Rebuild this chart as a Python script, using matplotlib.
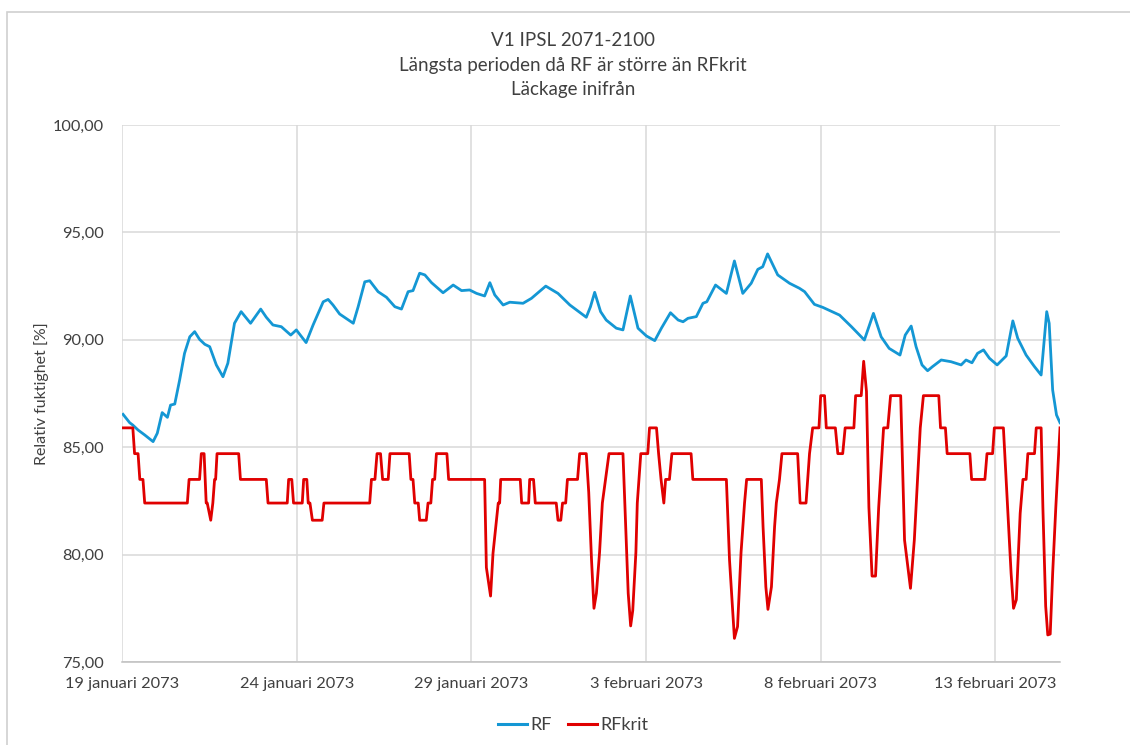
import matplotlib
matplotlib.use("Agg")
import matplotlib.pyplot as plt
from matplotlib.patches import Rectangle
from matplotlib.lines import Line2D

# days after 19 januari 2073 00:00
rf_days = [0.03, 0.22, 0.31, 0.46, 0.65, 0.89, 1.01, 1.15, 1.30, 1.39, 1.51, 1.65, 1.79, 1.94,
           2.08, 2.22, 2.37, 2.51, 2.70, 2.89, 3.03, 3.22, 3.41, 3.68, 3.97, 4.13, 4.32, 4.56,
           4.83, 4.99, 5.27, 5.47, 5.76, 5.90, 6.04, 6.23, 6.62, 6.76, 6.95, 7.09, 7.33, 7.57,
           7.81, 8.00, 8.19, 8.33, 8.52, 8.67, 8.86, 9.19, 9.48, 9.72, 9.95, 10.15, 10.38,
           10.53, 10.67, 10.91, 11.10, 11.48, 11.72, 12.13, 12.48, 12.82, 13.29, 13.41, 13.53,
           13.70, 13.86, 14.15, 14.34, 14.55, 14.77, 15.01, 15.25, 15.44, 15.70, 15.92, 16.06,
           16.20, 16.44, 16.63, 16.74, 16.99, 17.30, 17.53, 17.77, 18.01, 18.20, 18.34, 18.48,
           18.77, 19.11, 19.39, 19.54, 19.82, 20.06, 20.54, 20.88, 21.25, 21.51, 21.73, 21.96,
           22.27, 22.42, 22.59, 22.73, 22.90, 23.06, 23.20, 23.45, 23.73, 24.02, 24.16, 24.33,
           24.49, 24.66, 24.83, 25.05, 25.31, 25.50, 25.64, 25.88, 26.12, 26.31, 26.47, 26.54,
           26.64, 26.75, 26.85]
rf_values = [86.53, 86.14, 86.03, 85.80, 85.57, 85.26, 85.65, 86.61, 86.39, 86.96, 87.01, 88.13,
             89.37, 90.14, 90.38, 90.02, 89.79, 89.68, 88.83, 88.28, 88.91, 90.77, 91.31, 90.77,
             91.43, 91.05, 90.69, 90.61, 90.22, 90.46, 89.87, 90.69, 91.77, 91.88, 91.62, 91.20,
             90.77, 91.54, 92.70, 92.75, 92.24, 91.98, 91.54, 91.43, 92.24, 92.29, 93.10, 93.02,
             92.66, 92.19, 92.55, 92.29, 92.32, 92.16, 92.04, 92.66, 92.09, 91.62, 91.75, 91.70,
             91.93, 92.50, 92.16, 91.62, 91.05, 91.54, 92.21, 91.31, 90.92, 90.54, 90.46, 92.04,
             90.54, 90.18, 89.96, 90.54, 91.26, 90.92, 90.84, 91.00, 91.08, 91.70, 91.77, 92.55,
             92.16, 93.67, 92.16, 92.63, 93.28, 93.40, 94.00, 93.02, 92.63, 92.40, 92.24, 91.65,
             91.51, 91.15, 90.61, 89.99, 91.23, 90.14, 89.60, 89.29, 90.22, 90.64, 89.68, 88.83,
             88.56, 88.75, 89.06, 88.98, 88.83, 89.06, 88.93, 89.37, 89.53, 89.14, 88.83, 89.25,
             90.88, 90.07, 89.29, 88.75, 88.36, 91.31, 90.77, 87.66, 86.50, 86.14]

rfkrit_days = [0.03, 0.31, 0.36, 0.46, 0.51, 0.60, 0.65, 1.87, 1.92, 2.22, 2.27, 2.35, 2.41, 2.44,
               2.54, 2.60, 2.65, 2.68, 2.72, 3.34, 3.39, 4.13, 4.18, 4.73, 4.77, 4.86, 4.91, 5.16,
               5.20, 5.29, 5.33, 5.38, 5.45, 5.73, 5.78, 7.09, 7.14, 7.24, 7.30, 7.40, 7.46, 7.62,
               7.67, 8.22, 8.27, 8.33, 8.38, 8.48, 8.52, 8.71, 8.76, 8.84, 8.89, 8.95, 9.00, 9.30,
               9.35, 10.38, 10.43, 10.55, 10.62, 10.77, 10.81, 10.84, 11.40, 11.44, 11.64, 11.67,
               11.78, 11.83, 12.43, 12.48, 12.56, 12.61, 12.70, 12.75, 13.04, 13.10, 13.29, 13.36,
               13.44, 13.51, 13.58, 13.67, 13.75, 13.84, 13.94, 14.34, 14.42, 14.49, 14.56, 14.62,
               14.71, 14.75, 14.85, 15.05, 15.10, 15.30, 15.36, 15.43, 15.51, 15.56, 15.67, 15.74,
               16.29, 16.34, 17.30, 17.39, 17.53, 17.62, 17.72, 17.82, 17.88, 18.30, 18.35, 18.43,
               18.49, 18.59, 18.68, 18.73, 18.82, 18.89, 19.34, 19.41, 19.58, 19.68, 19.77, 19.95,
               20.00, 20.11, 20.16, 20.42, 20.49, 20.63, 20.70, 20.95, 21.00, 21.16, 21.23, 21.31,
               21.38, 21.47, 21.57, 21.66, 21.80, 21.92, 22.00, 22.29, 22.40, 22.57, 22.68, 22.78,
               22.85, 22.94, 23.38, 23.43, 23.57, 23.62, 24.27, 24.32, 24.70, 24.76, 24.92, 24.97,
               25.23, 25.35, 25.45, 25.52, 25.60, 25.71, 25.79, 25.88, 25.93, 26.12, 26.17, 26.31,
               26.36, 26.44, 26.50, 26.57, 26.64, 26.73, 26.85]
rfkrit_values = [85.9, 85.9, 84.7, 84.7, 83.5, 83.5, 82.4, 82.4, 83.5, 83.5, 84.7, 84.7, 82.4, 82.4,
                 81.6, 82.4, 83.5, 83.5, 84.7, 84.7, 83.5, 83.5, 82.4, 82.4, 83.5, 83.5, 82.4, 82.4,
                 83.5, 83.5, 82.4, 82.4, 81.6, 81.6, 82.4, 82.4, 83.5, 83.5, 84.7, 84.7, 83.5, 83.5,
                 84.7, 84.7, 83.5, 83.5, 82.4, 82.4, 81.6, 81.6, 82.4, 82.4, 83.5, 83.5, 84.7, 84.7,
                 83.5, 83.5, 79.4, 78.07, 80.06, 82.4, 82.4, 83.5, 83.5, 82.4, 82.4, 83.5,
                 83.5, 82.4, 82.4, 81.6, 81.6, 82.4, 82.4, 83.5, 83.5, 84.7, 84.7, 82.9,
                 79.75, 77.5, 78.2, 80.1, 82.4, 83.5, 84.7, 84.7, 81.3, 78.2, 76.68, 77.4,
                 80.1, 82.4, 84.7, 84.7, 85.9, 85.9, 84.7, 83.5, 82.4, 83.5, 83.5, 84.7,
                 84.7, 83.5, 83.5, 79.75, 76.1, 76.65, 80.1, 82.4, 83.5, 83.5, 81.3, 78.5,
                 77.45, 78.5, 81.3, 82.4, 83.5, 84.7, 84.7, 82.4, 82.4, 84.7, 85.9, 85.9,
                 87.4, 87.4, 85.9, 85.9, 84.7, 84.7, 85.9, 85.9, 87.4, 87.4, 89.0, 87.6,
                 82.2, 79.0, 79.0, 82.2, 85.9, 85.9, 87.4, 87.4, 80.68, 78.43, 80.68, 83.78,
                 85.9, 87.4, 87.4, 85.9, 85.9, 84.7, 84.7, 83.5, 83.5, 84.7, 84.7, 85.9,
                 85.9, 82.2, 79.13, 77.5, 77.9, 81.92, 83.5, 83.5, 84.7, 84.7, 85.9, 85.9,
                 82.2, 77.6, 76.26, 76.3, 79.13, 82.2, 85.9]

xtick_days = [0, 5, 10, 15, 20, 25]
xtick_labels = ["19 januari 2073", "24 januari 2073", "29 januari 2073",
                "3 februari 2073", "8 februari 2073", "13 februari 2073"]
ytick_values = [75, 80, 85, 90, 95, 100]

title_lines = ["V1 IPSL 2071-2100", "Längsta perioden då RF är större än RFkrit", "Läckage inifrån"]

plt.rcParams['font.family'] = ['Lato', 'DejaVu Sans']
text_color = '#404040'
grid_color = '#d9d9d9'
blue = '#1497d4'
red = '#e00000'

fig = plt.figure(figsize=(11.3, 7.45), dpi=100)
fig.patches.append(Rectangle((7 / 1130, -0.01), 1.02, 1 - 12 / 745 + 0.01, transform=fig.transFigure,
                             fill=False, edgecolor='#d0d0d0', linewidth=1.2))

ax = fig.add_axes([122 / 1130, 1 - 662 / 745, (1060 - 122) / 1130, (662 - 125) / 745])
ax.plot(rf_days, rf_values, color=blue, linewidth=2.0, label='RF', zorder=3)
ax.plot(rfkrit_days, rfkrit_values, color=red, linewidth=2.0, label='RFkrit', zorder=3)

ax.set_xlim(0, 26.85)
ax.set_ylim(75, 100)
ax.set_xticks(xtick_days)
ax.set_xticklabels(xtick_labels)
ax.set_yticks(ytick_values)
ax.set_yticklabels([f"{v:.2f}".replace('.', ',') for v in ytick_values])
ax.tick_params(axis='both', length=0, labelsize=11.8, colors=text_color)
ax.tick_params(axis='x', pad=11)
ax.tick_params(axis='y', pad=13)
ax.grid(True, color=grid_color, linewidth=1.1)
ax.set_axisbelow(True)
for side in ['top', 'right', 'left']:
    ax.spines[side].set_visible(False)
ax.spines['bottom'].set_color('#bfbfbf')
ax.spines['bottom'].set_linewidth(1.1)

ax.set_ylabel("Relativ fuktighet [%]", fontsize=11.5, color=text_color, labelpad=3)

for i, line in enumerate(title_lines):
    fig.text(573 / 1130, 1 - (40 + 25 * i) / 745, line, ha='center', va='center',
             fontsize=13.5, color=text_color)

handles = [Line2D([], [], color=blue, linewidth=2.2), Line2D([], [], color=red, linewidth=2.2)]
fig.legend(handles, ['RF', 'RFkrit'], loc='center', bbox_to_anchor=(573 / 1130, 1 - 725 / 745),
           ncol=2, frameon=False, fontsize=13, labelcolor=text_color, handlelength=1.6,
           handletextpad=0.2, columnspacing=0.9)

fig.savefig('out.png', dpi=100)
